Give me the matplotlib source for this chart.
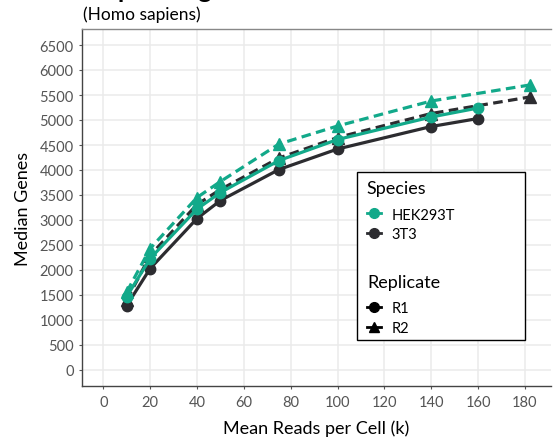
import matplotlib
matplotlib.use("Agg")
import matplotlib.pyplot as plt
from matplotlib.lines import Line2D
from matplotlib.patches import Rectangle

plt.rcParams["font.family"] = ["Lato", "DejaVu Sans"]

# reads per cell (k) for each replicate
reads_r1 = [10, 20, 40, 50, 75, 100, 140, 160]
reads_r2 = [10, 20, 40, 50, 75, 100, 140, 182]

# median genes per cell
hek_r1 = [1470, 2230, 3220, 3550, 4190, 4610, 5060, 5240]
hek_r2 = [1560, 2430, 3450, 3770, 4520, 4880, 5380, 5700]
t3_r1 = [1290, 2030, 3030, 3390, 4010, 4420, 4870, 5030]
t3_r2 = [1400, 2290, 3310, 3610, 4240, 4650, 5130, 5460]

y_ticks = list(range(0, 6501, 500))
x_ticks = list(range(0, 181, 20))

TEAL = "#12a98a"
DARK = "#2c2c30"

fig = plt.figure(figsize=(5.53, 4.39), dpi=100)
ax = fig.add_axes([82 / 553, 1 - 387.25 / 439, 469 / 553, 357.5 / 439])

series = [
    (reads_r1, t3_r1, DARK, "-", "o"),
    (reads_r2, t3_r2, DARK, (0, (3.0, 1.7)), "^"),
    (reads_r1, hek_r1, TEAL, "-", "o"),
    (reads_r2, hek_r2, TEAL, (0, (3.0, 1.7)), "^"),
]
for xs, ys, col, ls, mk in series:
    ax.plot(xs, ys, color=col, linestyle=ls, linewidth=2.3, marker=mk,
            markersize=7.5 if mk == "o" else 8, zorder=3)

ax.set_xlim(-9.1, 191.1)
ax.set_ylim(-325, 6825)
ax.set_xticks(x_ticks)
ax.set_yticks(y_ticks)
ax.grid(True, color="#ebebeb", linewidth=1.1)
ax.set_axisbelow(True)
ax.tick_params(length=2.5, color="#555555", labelcolor="#555555", labelsize=10.5)
ax.spines["top"].set_color("#888888")
ax.spines["right"].set_visible(False)
for side in ["left", "bottom"]:
    ax.spines[side].set_color("#444444")
for sp in ax.spines.values():
    sp.set_linewidth(1.0)

ax.set_xlabel("Mean Reads per Cell (k)", fontsize=13, labelpad=8)
ax.set_ylabel("Median Genes", fontsize=13, labelpad=6)

fig.text(83 / 553, 1 + 1.5 / 439, "Sequencing Saturation", fontsize=18,
         fontweight="bold", va="baseline", ha="left")
fig.text(83 / 553, 1 - 15 / 439, "(Homo sapiens)", fontsize=12.5,
         va="center", ha="left")

# legend frame and two stacked legends
frame = Rectangle((0.586, 0.129), 0.359, 0.47, transform=ax.transAxes,
                  facecolor="white", edgecolor="black", linewidth=1.0, zorder=4)
ax.add_patch(frame)

species_handles = [
    Line2D([], [], color=TEAL, marker="o", markersize=7, linewidth=2),
    Line2D([], [], color=DARK, marker="o", markersize=7, linewidth=2),
]
rep_handles = [
    Line2D([], [], color="black", marker="o", markersize=7, linewidth=2),
    Line2D([], [], color="black", marker="^", markersize=7, linewidth=2),
]
common = dict(loc="upper left", frameon=False, fontsize=10.5, title_fontsize=13,
              alignment="left", handlelength=1.0, handletextpad=0.7,
              labelspacing=0.38, borderaxespad=0, borderpad=0.4)
leg1 = ax.legend(species_handles, ["HEK293T", "3T3"], title="Species",
                 bbox_to_anchor=(0.595, 0.592), **common)
leg1._legend_box.sep = 8
leg1.set_zorder(5)
ax.add_artist(leg1)
leg2 = ax.legend(rep_handles, ["R1", "R2"], title="Replicate",
                 bbox_to_anchor=(0.595, 0.33), **common)
leg2._legend_box.sep = 8
leg2.set_zorder(5)

fig.savefig("out.png", dpi=100)
